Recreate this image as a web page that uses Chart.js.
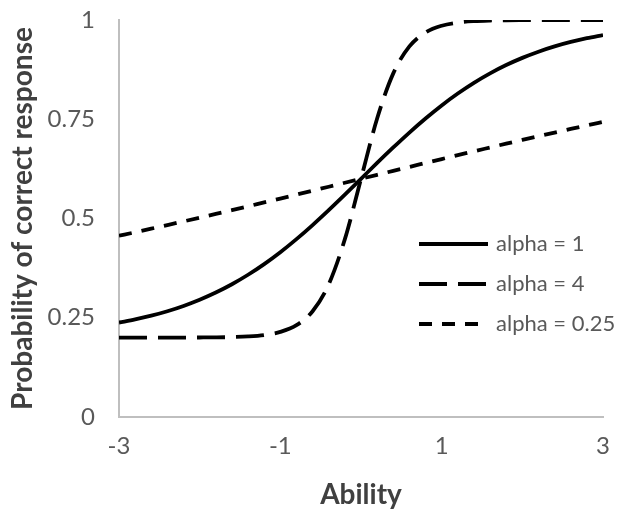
<!DOCTYPE html>
<html>
<head>
<meta charset="utf-8">
<script src="https://cdn.jsdelivr.net/npm/chart.js@4/dist/chart.umd.min.js"></script>
<style>
html,body{margin:0;padding:0;background:#fff;}
#wrap{width:618px;height:512px;}
</style>
</head>
<body>
<div id="wrap"><canvas id="c" width="618" height="512"></canvas></div>
<script>
const abilities = [-3,-2.8,-2.6,-2.4,-2.2,-2,-1.8,-1.6,-1.4,-1.2,-1,-0.8,-0.6,-0.4,-0.2,0,0.2,0.4,0.6,0.8,1,1.2,1.4,1.6,1.8,2,2.2,2.4,2.6,2.8,3];
const alpha1 = [0.2379,0.2459,0.2553,0.2665,0.2798,0.2954,0.3135,0.3344,0.3583,0.3852,0.4151,0.4480,0.4835,0.5211,0.5601,0.6,0.6399,0.6789,0.7165,0.7520,0.7849,0.8148,0.8417,0.8656,0.8865,0.9046,0.9202,0.9335,0.9447,0.9541,0.9621];
const alpha4 = [0.2000,0.2000,0.2000,0.2000,0.2001,0.2003,0.2006,0.2013,0.2029,0.2065,0.2144,0.2313,0.2665,0.3344,0.4480,0.6,0.7520,0.8656,0.9335,0.9687,0.9856,0.9935,0.9971,0.9987,0.9994,0.9997,0.9999,1.0000,1.0000,1.0000,1.0000];
const alpha025 = [0.4566,0.4654,0.4744,0.4835,0.4927,0.5020,0.5115,0.5211,0.5307,0.5405,0.5502,0.5601,0.5701,0.5800,0.5900,0.6,0.6100,0.6200,0.6299,0.6399,0.6498,0.6595,0.6693,0.6789,0.6885,0.6980,0.7073,0.7165,0.7256,0.7346,0.7434];
const seriesLabels = ['alpha = 1','alpha = 4','alpha = 0.25'];
const xTickValues = [-3,-1,1,3];
const yTickValues = [0,0.25,0.5,0.75,1];
const yTickLabels = ['0','0.25','0.5','0.75','1'];
const xTitle = 'Ability';
const yTitle = 'Probability of correct response';

const FONT = 'Lato, "Open Sans", sans-serif';
const dashes = [[], [28,11], [13,10]];

function pts(ys){ return abilities.map((x,i)=>({x:x,y:ys[i]})); }

const legendPlugin = {
  id:'insideLegend',
  afterDraw(chart){
    const ctx = chart.ctx;
    const rows = [244,284,324];
    ctx.save();
    chart.data.datasets.forEach((ds,i)=>{
      const y = rows[i];
      ctx.beginPath();
      ctx.strokeStyle = ds.borderColor;
      ctx.lineWidth = ds.borderWidth;
      ctx.setLineDash(ds.borderDash || []);
      ctx.lineCap = 'butt';
      ctx.moveTo(419,y); ctx.lineTo(488,y);
      ctx.stroke();
      ctx.setLineDash([]);
      ctx.fillStyle = '#595959';
      ctx.font = '22px ' + FONT;
      ctx.textBaseline = 'middle';
      ctx.textAlign = 'left';
      ctx.fillText(ds.label, 496, y);
    });
    ctx.restore();
  }
};

new Chart(document.getElementById('c'), {
  type:'line',
  data:{
    datasets:[alpha1,alpha4,alpha025].map((d,i)=>({
      label:seriesLabels[i],
      data:pts(d),
      borderColor:'#000000',
      borderWidth:3.8,
      borderDash:dashes[i],
      pointRadius:0,
      fill:false,
      cubicInterpolationMode:'monotone'
    }))
  },
  options:{
    responsive:false,
    animation:false,
    layout:{padding:{top:20,right:15,bottom:0,left:0}},
    plugins:{legend:{display:false},tooltip:{enabled:false}},
    scales:{
      x:{
        type:'linear',
        min:-3,max:3,
        afterBuildTicks(s){ s.ticks = xTickValues.map(v=>({value:v})); },
        afterFit(s){ s.height = 95; s.paddingLeft = 0; s.paddingRight = 0; },
        grid:{display:false,drawTicks:false},
        border:{display:true,color:'#BFBFBF',width:2},
        ticks:{color:'#595959',font:{family:FONT,size:24},padding:15,maxRotation:0,
          callback:(v)=>String(v)},
        title:{display:true,text:xTitle,color:'#404040',font:{family:FONT,size:28,weight:'bold'},padding:{top:0,bottom:0}}
      },
      y:{
        min:0,max:1,
        afterBuildTicks(s){ s.ticks = yTickValues.map(v=>({value:v})); },
        afterFit(s){ s.width = 119; s.paddingTop = 0; s.paddingBottom = 0; },
        grid:{display:false,drawTicks:false},
        border:{display:true,color:'#BFBFBF',width:2},
        ticks:{color:'#595959',font:{family:FONT,size:24},padding:24,
          callback:(v,i)=>yTickLabels[i]},
        title:{display:true,text:yTitle,color:'#404040',font:{family:FONT,size:28,weight:'bold'},padding:{top:6,bottom:0}}
      }
    }
  },
  plugins:[legendPlugin]
});
</script>
</body>
</html>
